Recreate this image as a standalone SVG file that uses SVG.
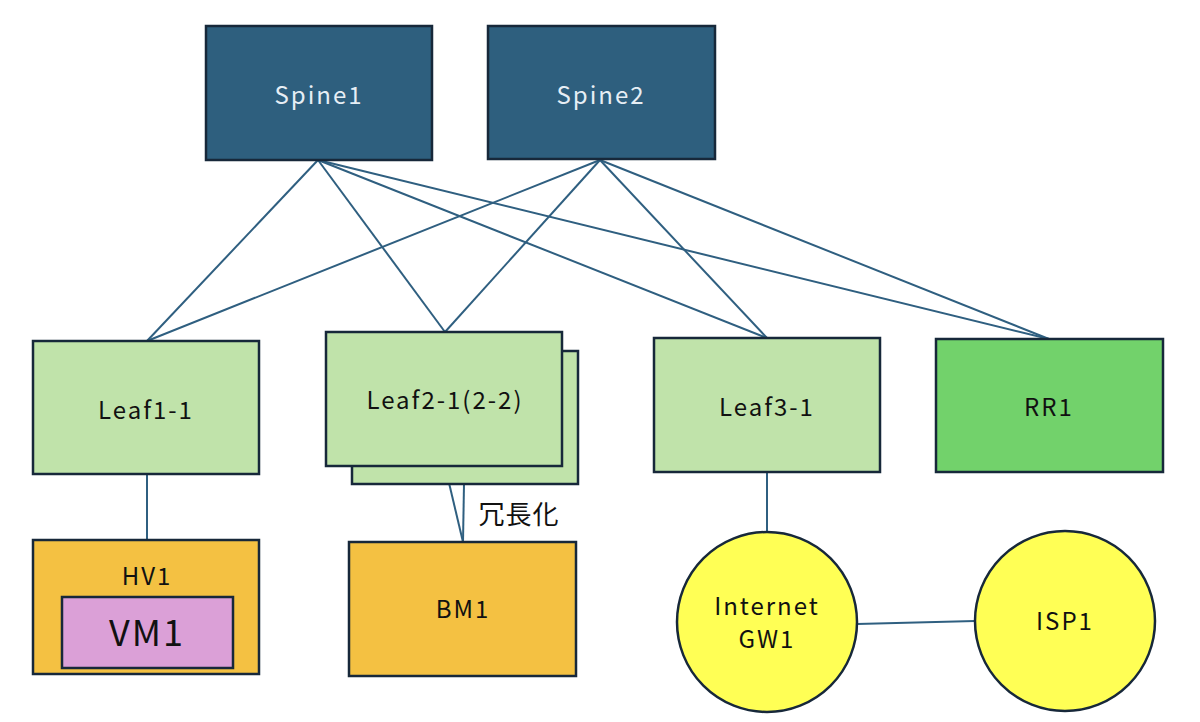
<svg xmlns="http://www.w3.org/2000/svg" width="1200" height="722" viewBox="0 0 1200 722">
<style>
text{font-family:"Noto Sans CJK JP","Noto Sans",sans-serif;font-size:24px;letter-spacing:2px;fill:#111;text-anchor:middle;dominant-baseline:central}
.box{stroke:#17283a;stroke-width:2.5}
.spine{fill:#2E5F7E}
.leaf{fill:#C0E3AA}
.rr{fill:#72D26B}
.srv{fill:#F4C142}
.vm{fill:#DBA0D7}
.cir{fill:#FFFF55}
.lt{fill:#E6EEF5}
.conn line{stroke:#2F5F80;stroke-width:2}
</style>
<rect width="1200" height="722" fill="#fff"/>
<g class="conn">
<line x1="318" y1="160" x2="147" y2="341"/>
<line x1="318" y1="160" x2="445" y2="332"/>
<line x1="318" y1="160" x2="767" y2="338"/>
<line x1="318" y1="160" x2="1049" y2="339"/>
<line x1="600" y1="160" x2="147" y2="341"/>
<line x1="600" y1="160" x2="445" y2="332"/>
<line x1="600" y1="160" x2="767" y2="338"/>
<line x1="600" y1="160" x2="1049" y2="339"/>
<line x1="147" y1="474" x2="147" y2="540"/>
<line x1="445" y1="466" x2="463" y2="542"/>
<line x1="464" y1="484" x2="463" y2="542"/>
<line x1="767" y1="472" x2="767" y2="532"/>
<line x1="857" y1="624" x2="975" y2="621"/>
</g>
<g id="spine1"><rect class="box spine" x="206" y="26" width="226" height="134"/><text class="lt" x="319" y="93">Spine1</text></g>
<g id="spine2"><rect class="box spine" x="488" y="26" width="227" height="133"/><text class="lt" x="601" y="93">Spine2</text></g>
<g id="leaf1-1"><rect class="box leaf" x="33" y="341" width="226" height="133"/><text x="146" y="408">Leaf1-1</text></g>
<g id="leaf2-2"><rect class="box leaf" x="352" y="351" width="226" height="133"/></g>
<g id="leaf2-1"><rect class="box leaf" x="326" y="332" width="236" height="134"/><text x="445" y="398">Leaf2-1(2-2)</text></g>
<g id="leaf3-1"><rect class="box leaf" x="654" y="338" width="226" height="134"/><text x="767" y="405">Leaf3-1</text></g>
<g id="rr1"><rect class="box rr" x="936" y="339" width="227" height="133"/><text x="1049" y="405">RR1</text></g>
<g id="hv1"><rect class="box srv" x="33" y="540" width="226" height="134"/><text x="147" y="574">HV1</text></g>
<g id="vm1"><rect class="box vm" x="62" y="597" width="171" height="71"/><text x="147" y="630" style="font-size:36px">VM1</text></g>
<g id="bm1"><rect class="box srv" x="349" y="542" width="227" height="134"/><text x="463" y="607">BM1</text></g>
<g id="gw1"><circle class="box cir" cx="767" cy="622" r="90"/><text x="767" y="604">Internet</text><text x="767" y="637">GW1</text></g>
<g id="isp1"><circle class="box cir" cx="1065" cy="621" r="90"/><text x="1065" y="619">ISP1</text></g>
<text x="519" y="512" style="font-size:26px;letter-spacing:1px">冗長化</text>
</svg>
